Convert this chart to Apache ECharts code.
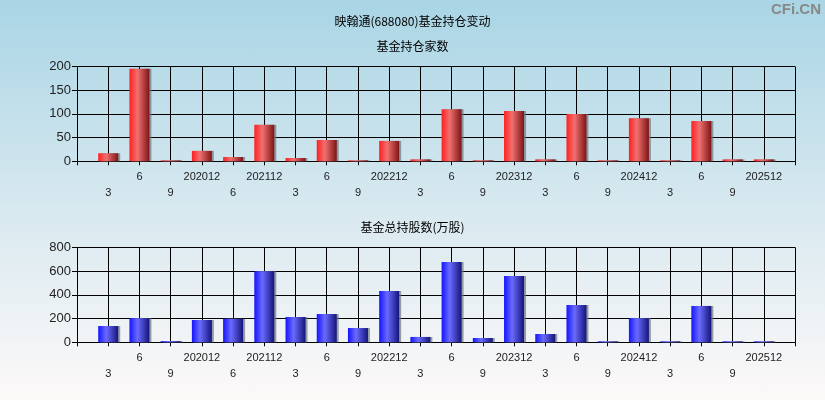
<!DOCTYPE html>
<html>
<head>
<meta charset="utf-8">
<script src="https://cdn.jsdelivr.net/npm/echarts@6/dist/echarts.min.js"></script>
<style>
html,body{margin:0;padding:0;}
#c{width:825px;height:400px;background:linear-gradient(to bottom,#a9d5e5 0%,#d6e8ef 50%,#fdf9f9 100%);}
</style>
</head>
<body>
<div id="c"></div>
<script>
var categories = ['3','6','9','202012','6','202112','3','6','9','202212','3','6','9','202312','3','6','9','202412','3','6','9','202512'];
var fundCounts = [17,195,2,22,9,77,7,45,2,43,4,110,2,106,4,100,2,91,2,85,4,4];
var fundShares = [137,203,10,188,198,598,213,238,120,432,45,676,36,558,70,314,8,203,8,306,8,8];
var countTicks = {min:0, max:200, interval:50};
var shareTicks = {min:0, max:800, interval:200};

var axisData = [''].concat(categories).concat(['']);
function pad(arr){ return ['-'].concat(arr).concat(['-']); }

var chart = echarts.init(document.getElementById('c'), null, {renderer:'canvas'});
function grad(c1,c2,c3){
  return new echarts.graphic.LinearGradient(0,0,1,0,[
    {offset:0,color:c1},{offset:0.4,color:c2},{offset:1,color:c3}
  ]);
}
function xAxis(gi){
  return {
    type:'category', gridIndex:gi, data:axisData, boundaryGap:false,
    axisLine:{lineStyle:{color:'#000',width:1}},
    axisTick:{show:true,length:4,interval:0,lineStyle:{color:'#000'}},
    splitLine:{show:true,interval:0,lineStyle:{color:'#000',width:1}},
    axisLabel:{interval:0,margin:8,color:'#222',fontSize:11,fontFamily:'Liberation Sans, Arial',lineHeight:16,
      formatter:function(v,i){ if(v==='') return ''; return (i%2===1)?('\n'+v):v; }}
  };
}
function yAxis(gi,t){
  return {
    type:'value', gridIndex:gi, min:t.min, max:t.max, interval:t.interval,
    axisLine:{show:true,lineStyle:{color:'#000',width:1}},
    axisTick:{show:true,length:5,lineStyle:{color:'#000'}},
    splitLine:{show:true,lineStyle:{color:'#000',width:1}},
    axisLabel:{color:'#222',fontSize:13,fontFamily:'Liberation Sans, Arial',margin:6}
  };
}
var option = {
  animation:false,
  backgroundColor:'transparent',
  title:[
    {text:'映翰通(688080)基金持仓变动',left:'center',top:10,textStyle:{fontSize:12,fontWeight:'normal',color:'#000',fontFamily:'Noto Sans CJK SC'}},
    {text:'基金持仓家数',left:'center',top:35,textStyle:{fontSize:12,fontWeight:'normal',color:'#000',fontFamily:'Noto Sans CJK SC'}},
    {text:'基金总持股数(万股)',left:'center',top:216,textStyle:{fontSize:12,fontWeight:'normal',color:'#000',fontFamily:'Noto Sans CJK SC'}}
  ],
  graphic:[{type:'text',right:4,top:2,style:{text:'CFi.CN',fill:'#888',font:'bold 15px Liberation Sans, Arial'}}],
  grid:[
    {left:77,right:30,top:66.5,height:94.8},
    {left:77,right:30,top:247.3,height:95}
  ],
  xAxis:[xAxis(0),xAxis(1)],
  yAxis:[yAxis(0,countTicks),yAxis(1,shareTicks)],
  series:[
    {type:'bar',xAxisIndex:0,yAxisIndex:0,data:pad(fundCounts),barWidth:20,
     itemStyle:{color:grad('#ff1f1f','#f07070','#7e1414'),shadowColor:'rgba(110,120,130,0.7)',shadowOffsetX:2,shadowOffsetY:0,shadowBlur:0}},
    {type:'bar',xAxisIndex:1,yAxisIndex:1,data:pad(fundShares),barWidth:20,
     itemStyle:{color:grad('#1414ff','#6a6aff','#14147a'),shadowColor:'rgba(110,120,130,0.7)',shadowOffsetX:2,shadowOffsetY:0,shadowBlur:0}}
  ]
};
chart.setOption(option);
</script>
</body>
</html>
